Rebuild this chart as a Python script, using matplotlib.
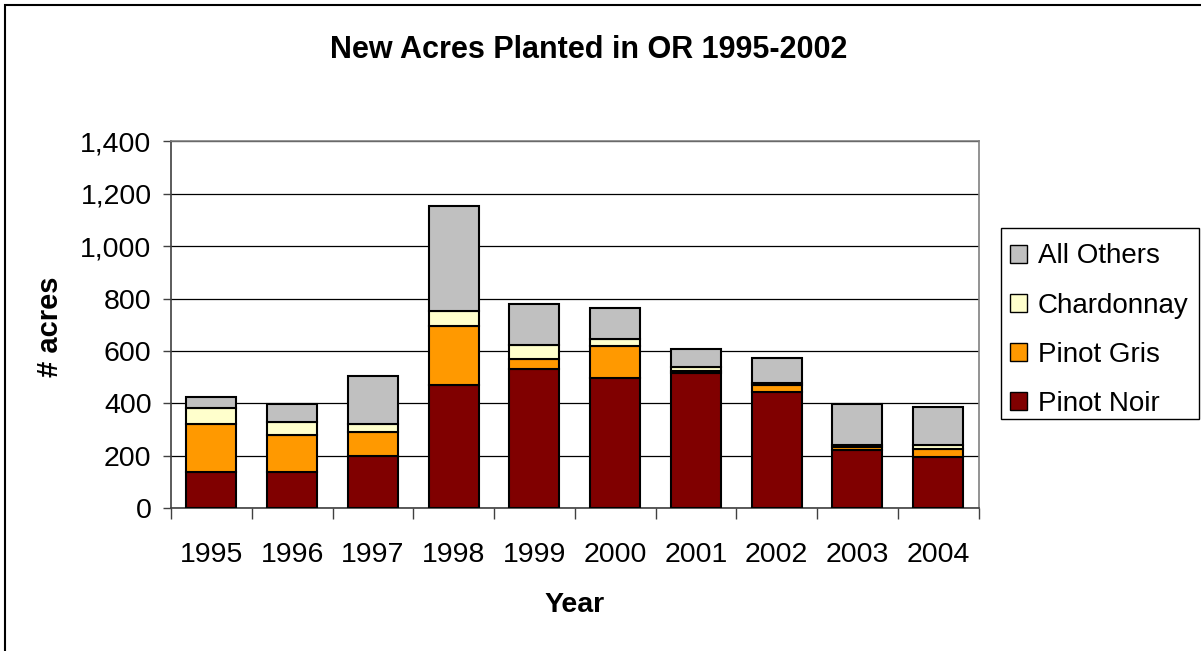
import matplotlib
matplotlib.use("Agg")
import matplotlib.pyplot as plt
from matplotlib.patches import Patch, Rectangle
from matplotlib.ticker import FuncFormatter, FixedLocator
import numpy as np

plt.rcParams['font.family'] = ['Liberation Sans', 'DejaVu Sans']

years = ['1995', '1996', '1997', '1998', '1999', '2000', '2001', '2002', '2003', '2004']
pinot_noir = [140, 138, 198, 471, 530, 498, 515, 445, 222, 197]
pinot_gris = [182, 142, 92, 223, 39, 122, 10, 24, 10, 29]
chardonnay = [59, 50, 33, 60, 53, 25, 15, 10, 11, 14]
all_others = [42, 69, 182, 399, 156, 120, 66, 93, 155, 147]

series = [('Pinot Noir', pinot_noir, '#800000'),
          ('Pinot Gris', pinot_gris, '#FF9900'),
          ('Chardonnay', chardonnay, '#FFFFCC'),
          ('All Others', all_others, '#C0C0C0')]

W, H = 1201, 651
fig = plt.figure(figsize=(W / 100, H / 100), dpi=100)
ax = fig.add_axes([171 / W, 1 - 508.3 / H, (978.5 - 171) / W, (508.3 - 141.3) / H])

x = np.arange(len(years))
bottom = np.zeros(len(years))
handles = []
for name, vals, col in series:
    ax.bar(x, vals, width=0.62, bottom=bottom, color=col, edgecolor='black',
           linewidth=1.5, zorder=3)
    bottom += np.array(vals)
    handles.append(Patch(facecolor=col, edgecolor='black', linewidth=1.0, label=name))

ax.set_xlim(-0.5, len(years) - 0.5)
ax.set_ylim(0, 1400)
ax.set_yticks(np.arange(0, 1401, 200))
ax.yaxis.set_major_formatter(FuncFormatter(lambda v, p: f'{int(v):,}'))
ax.grid(axis='y', color='black', linewidth=0.9, zorder=0)

ax.set_xticks(x)
ax.set_xticklabels(years)
ax.xaxis.set_minor_locator(FixedLocator(np.arange(-0.5, len(years), 1.0)))
ax.tick_params(axis='x', which='major', length=0, pad=24, labelsize=20.5)
ax.tick_params(axis='x', which='minor', length=8, width=1, color='#404040', direction='out')
ax.tick_params(axis='y', which='major', length=6, width=1, color='#404040',
               direction='out', pad=8, labelsize=20.5)

for s in ['top', 'right']:
    ax.spines[s].set_color('#808080')
    ax.spines[s].set_linewidth(1.2)
ax.spines['left'].set_color('#404040')
ax.spines['bottom'].set_color('#404040')
ax.spines['left'].set_linewidth(1.2)
ax.spines['bottom'].set_linewidth(1.2)

fig.text(589 / W, 1 - 50 / H, 'New Acres Planted in OR 1995-2002', ha='center', va='center',
         fontsize=22, fontweight='bold')
fig.text(575 / W, 1 - 605 / H, 'Year', ha='center', va='center', fontsize=20.5,
         fontweight='bold')
fig.text(50 / W, 1 - 327 / H, '# acres', ha='center', va='center', fontsize=21,
         fontweight='bold', rotation=90)

# legend frame drawn separately for exact placement
fig.patches.append(Rectangle((1000.5 / W, 1 - 419 / H), 198.5 / W, 191 / H,
                             transform=fig.transFigure, facecolor='white',
                             edgecolor='black', linewidth=1.0, zorder=1))
leg = fig.legend(handles=handles[::-1], loc='upper left',
                 bbox_to_anchor=(1010 / W, 1 - 243.5 / H), bbox_transform=fig.transFigure,
                 fontsize=20, frameon=False,
                 handlelength=0.6, handleheight=0.6, handletextpad=0.4,
                 labelspacing=0.83, borderpad=0, borderaxespad=0)
leg.set_zorder(5)

# outer chart border (left and top visible)
fig.patches.append(Rectangle((4.5 / W, -0.1), 1.2, 1 - 4.5 / H + 0.1, transform=fig.transFigure,
                             fill=False, edgecolor='black', linewidth=1.5))

fig.savefig('out.png', dpi=100)
